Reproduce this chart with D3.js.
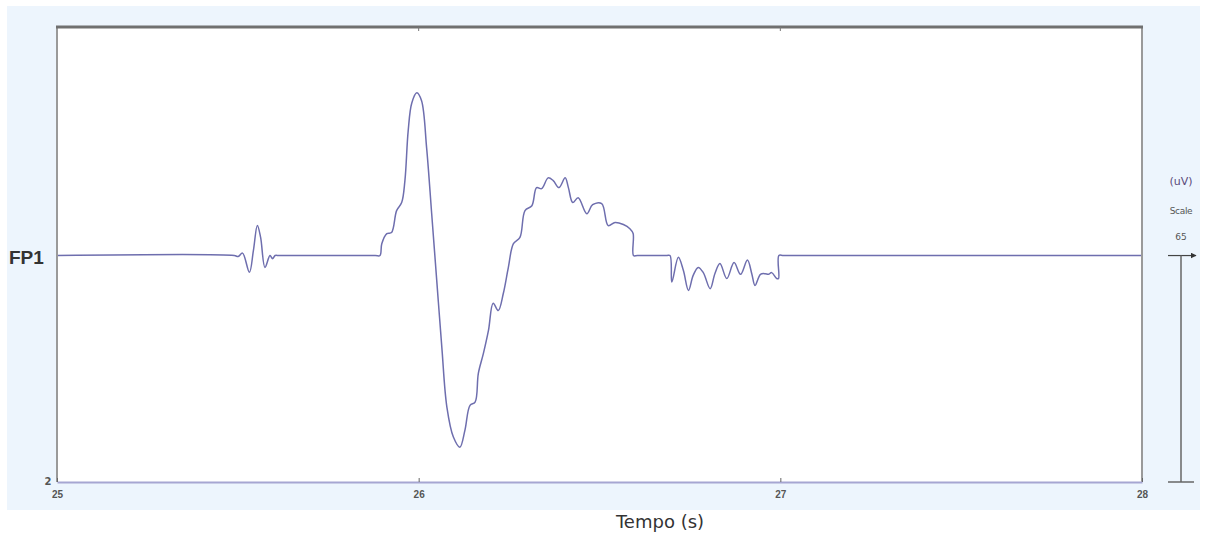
<!DOCTYPE html>
<html>
<head>
<meta charset="utf-8">
<script src="https://cdn.jsdelivr.net/npm/d3@7"></script>
<style>
  body { margin: 0; background: #fff; }
  svg { display: block; }
</style>
</head>
<body>
<div id="chart"></div>
<script>
// EEG trace FP1, time in seconds, amplitude in uV
var times = [25.000, 25.490, 25.501, 25.513, 25.532, 25.543, 25.554, 25.563, 25.575, 25.589, 25.596, 25.603, 25.615,
  25.880, 25.893, 25.898, 25.912, 25.925, 25.939, 25.953, 25.962, 25.971, 25.981, 25.995,
  26.008, 26.022, 26.036, 26.050, 26.064, 26.078, 26.096, 26.114, 26.128, 26.142,
  26.156, 26.165, 26.179, 26.193, 26.206, 26.220, 26.234, 26.248, 26.262, 26.280,
  26.294, 26.313, 26.326, 26.340, 26.358, 26.372, 26.388, 26.405, 26.414, 26.426,
  26.441, 26.465, 26.481, 26.506, 26.524, 26.543, 26.566, 26.584, 26.593, 26.594, 26.605,
  26.685, 26.695, 26.700, 26.718, 26.732, 26.746, 26.759, 26.773, 26.787, 26.806, 26.819,
  26.833, 26.852, 26.872, 26.890, 26.909, 26.921, 26.930, 26.945, 26.958, 26.967,
  26.976, 26.990, 26.995, 26.996, 27.010, 28.000];
var microvolts = [0, 0, -0.3, 0.7, -4.8, 1.4, 8.6, 5.2, -3.4, 0, -0.9, 0, 0,
  0, 0, 3.4, 6.3, 6.6, 12.9, 15.2, 21.5, 35.8, 43.8, 46.7,
  44.4, 30.9, 12.0, -7.2, -26.3, -43.5, -52.1, -55.0, -50.1, -43.0,
  -42.1, -33.8, -28.1, -21.5, -13.7, -15.8, -10.9, -3.4, 3.4, 5.2,
  12.9, 14.3, 19.5, 19.2, 22.3, 21.5, 19.5, 22.3, 19.5, 15.2,
  16.6, 12.0, 14.6, 14.9, 8.6, 9.5, 8.9, 7.7, 6.3, 0, 0,
  0, 0, -7.6, -0.5, -4.3, -10.0, -5.7, -3.4, -4.9, -9.5, -5.2,
  -2.3, -6.6, -2.0, -5.4, -1.3, -5.2, -8.6, -5.4, -5.2, -5.4,
  -4.9, -6.6, -6.6, 0, 0, 0];
var xTicks = [25, 26, 27, 28];
var yLabels = ["2"];
var channelName = "FP1";
var scaleValue = 65;

var width = 1207, height = 537;
var plotLeft = 57, plotRight = 1142, plotTop = 27, plotBottom = 482;

var svg = d3.select("#chart").append("svg")
  .attr("width", width)
  .attr("height", height)
  .style("font-family", "'DejaVu Sans', sans-serif");

// light blue panel and white plot area
svg.append("rect").attr("x", 7).attr("y", 6).attr("width", 1193).attr("height", 504)
  .attr("fill", "#edf5fd");
svg.append("rect").attr("x", plotLeft).attr("y", plotTop)
  .attr("width", plotRight - plotLeft).attr("height", plotBottom - plotTop)
  .attr("fill", "#fff");

var x = d3.scaleLinear().domain([25, 28]).range([plotLeft, plotRight]);
var y = d3.scaleLinear().domain([-65, 65.6]).range([plotBottom, plotTop]);

var points = times.map(function(t, i) { return { t: t, v: microvolts[i] }; });

var line = d3.line()
  .x(function(d) { return x(d.t); })
  .y(function(d) { return y(d.v); })
  .curve(d3.curveCatmullRom.alpha(0.5));

svg.append("path")
  .datum(points)
  .attr("d", line)
  .attr("fill", "none")
  .attr("stroke", "#6e6eae")
  .attr("stroke-width", 1.5);

// frame
svg.append("line").attr("x1", plotLeft).attr("x2", plotLeft).attr("y1", plotTop).attr("y2", plotBottom)
  .attr("stroke", "#9a9a9a").attr("stroke-width", 2);
svg.append("line").attr("x1", plotRight).attr("x2", plotRight).attr("y1", plotTop).attr("y2", plotBottom)
  .attr("stroke", "#9a9a9a").attr("stroke-width", 2);
svg.append("line").attr("x1", plotLeft - 1).attr("x2", plotRight + 1).attr("y1", plotTop).attr("y2", plotTop)
  .attr("stroke", "#707070").attr("stroke-width", 3);

// bottom axis
var xAxis = svg.append("g")
  .attr("transform", "translate(0," + plotBottom + ")")
  .call(d3.axisBottom(x).tickValues(xTicks).tickSizeInner(-4).tickSizeOuter(0).tickPadding(9)
    .tickFormat(d3.format("d")));
xAxis.select(".domain").attr("stroke", "#a6a6d2").attr("stroke-width", 2);
xAxis.selectAll(".tick line").attr("stroke", "#666");
xAxis.selectAll(".tick text").attr("fill", "#555").attr("font-size", 10).attr("font-weight", "bold");

// small top ticks
svg.selectAll(".toptick").data(xTicks.slice(1, 3)).enter().append("line")
  .attr("x1", function(d) { return x(d); }).attr("x2", function(d) { return x(d); })
  .attr("y1", plotTop).attr("y2", plotTop + 4)
  .attr("stroke", "#777").attr("stroke-width", 1);

svg.selectAll(".ylab").data(yLabels).enter().append("text")
  .attr("x", plotLeft - 9).attr("y", plotBottom + 3)
  .attr("text-anchor", "middle")
  .attr("fill", "#555").attr("font-size", 10).attr("font-weight", "bold")
  .text(function(d) { return d; });

// channel name
svg.append("text")
  .attr("x", 9).attr("y", y(0) + 8)
  .attr("font-family", "'Liberation Sans', Arial, sans-serif")
  .attr("font-size", 19)
  .attr("font-weight", "bold")
  .attr("fill", "#333")
  .text(channelName);

// axis title
svg.append("text")
  .attr("x", 660).attr("y", 528)
  .attr("text-anchor", "middle")
  .attr("font-size", 18)
  .attr("fill", "#333")
  .text("Tempo (s)");

// scale bar
var sx = 1181;
svg.append("text").attr("x", sx).attr("y", 185).attr("text-anchor", "middle")
  .attr("font-size", 11).attr("fill", "#5a4a7a").text("(uV)");
svg.append("text").attr("x", sx).attr("y", 214).attr("text-anchor", "middle")
  .attr("font-size", 9).attr("fill", "#555").attr("letter-spacing", -0.3).text("Scale");
svg.append("text").attr("x", sx).attr("y", 240).attr("text-anchor", "middle")
  .attr("font-size", 9).attr("fill", "#555").text(scaleValue);

svg.append("defs").append("marker")
  .attr("id", "arr").attr("viewBox", "0 0 10 10").attr("refX", 9).attr("refY", 5)
  .attr("markerWidth", 5).attr("markerHeight", 5).attr("orient", "auto")
  .append("path").attr("d", "M0,0L10,5L0,10z").attr("fill", "#333");

svg.append("line").attr("x1", 1168).attr("x2", 1196).attr("y1", y(0)).attr("y2", y(0))
  .attr("stroke", "#444").attr("stroke-width", 1.2).attr("marker-end", "url(#arr)");
svg.append("line").attr("x1", sx).attr("x2", sx).attr("y1", y(0)).attr("y2", y(-scaleValue))
  .attr("stroke", "#666").attr("stroke-width", 1.5);
svg.append("line").attr("x1", 1168).attr("x2", 1194).attr("y1", y(-scaleValue)).attr("y2", y(-scaleValue))
  .attr("stroke", "#666").attr("stroke-width", 1.5);
</script>
</body>
</html>
